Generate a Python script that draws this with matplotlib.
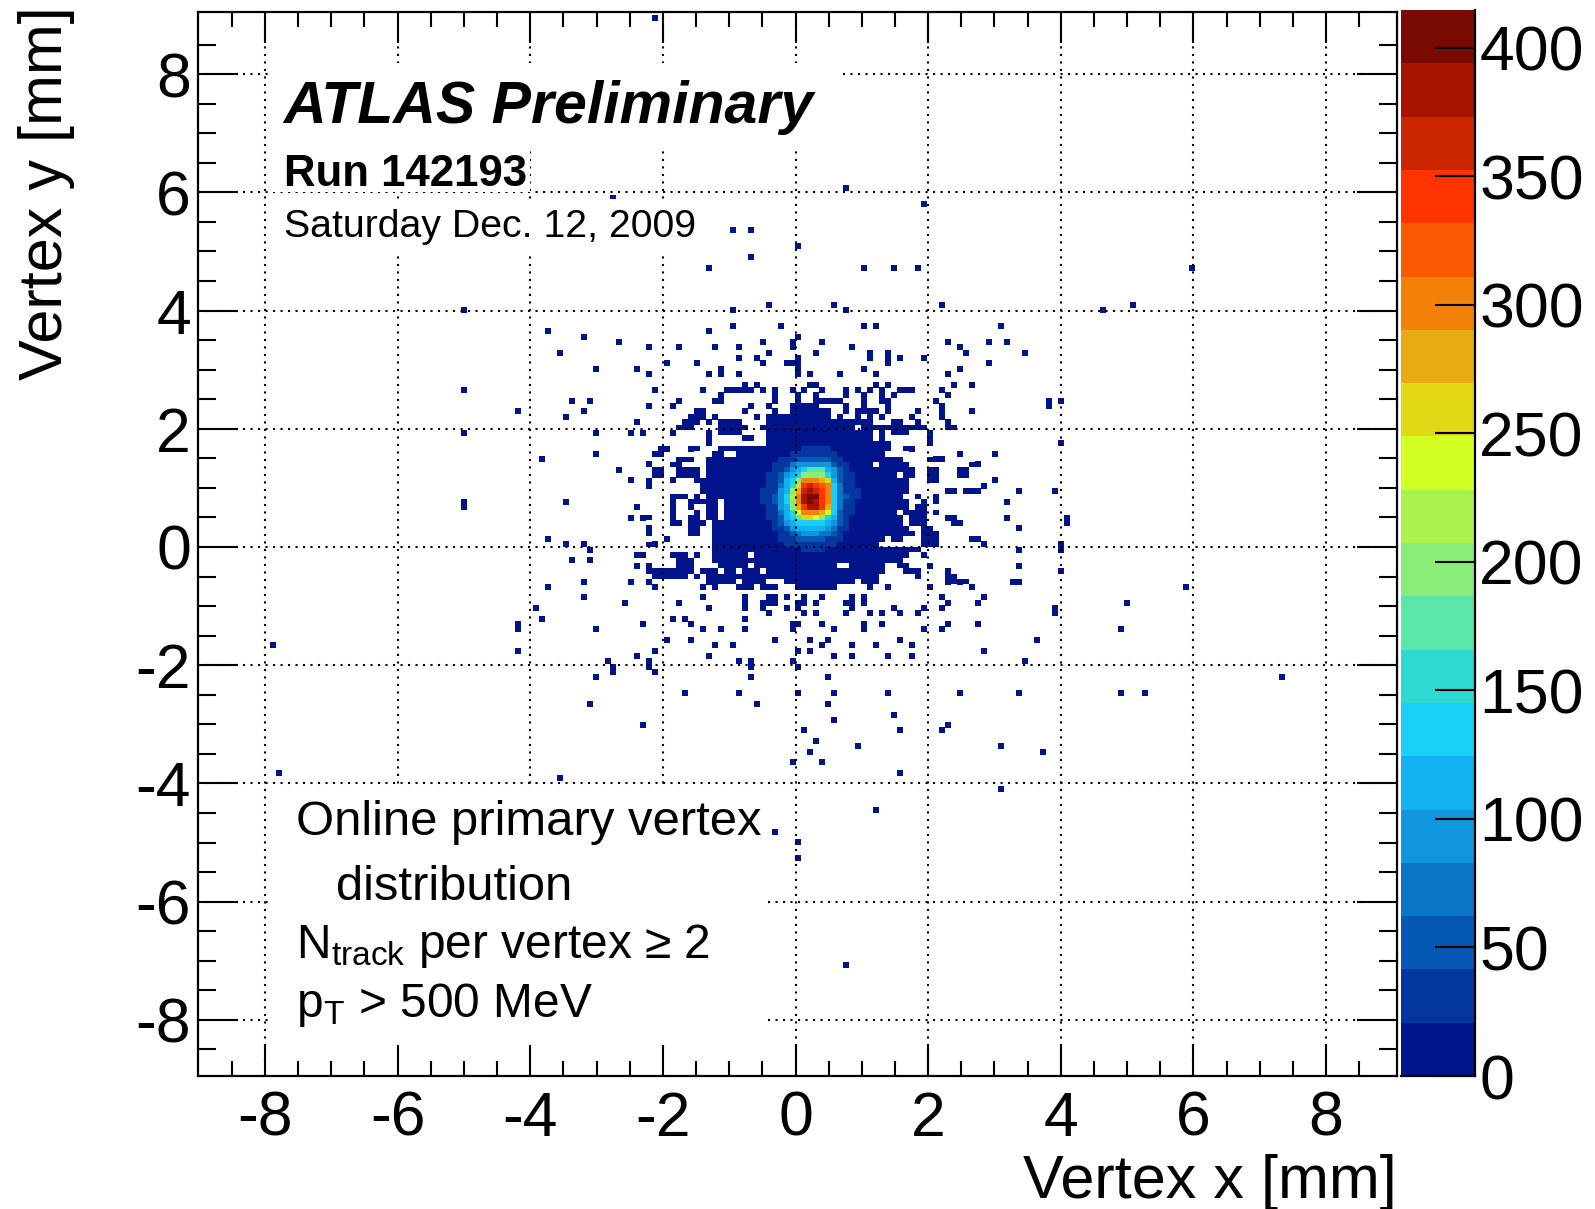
import numpy as np
import matplotlib
matplotlib.use('Agg')
import matplotlib.pyplot as plt
from matplotlib.colors import ListedColormap, BoundaryNorm
from matplotlib.patches import Rectangle

plt.rcParams['font.family'] = ['Liberation Sans', 'DejaVu Sans']
plt.rcParams['axes.unicode_minus'] = False

# filled part of the blob: one row of (x from, x to) spans per y bin, in mm
blob_y = [2.025, 1.935, 1.845, 1.755, 1.665, 1.575, 1.485, 1.395, 1.305, 1.215,
          1.125, 1.035, 0.945, 0.855, 0.765, 0.675, 0.585, 0.495, 0.405, 0.315,
          0.225, 0.135, 0.045, -0.045, -0.135, -0.225, -0.315, -0.405, -0.495, -0.585]
blob_spans = [
    [(-1.73, -1.53), (-1.13, -.75), (-.48, .9), (1.0, 1.96), (2.29, 2.39)],
    [(-1.31, -1.23), (-1.13, -.85), (-.4, 1.21), (1.3, 1.38), (1.51, 1.71), (2.01, 2.06)],
    [(-1.31, -1.23), (-.75, -.63), (-.38, 1.21), (1.3, 1.38), (2.01, 2.06)],
    [(-1.31, -1.23), (-.43, 1.38), (2.01, 2.06)],
    [(-2.01, -1.93), (-1.61, -1.51), (-1.16, 1.0), (1.1, 1.38), (1.68, 1.78)],
    [(-2.14, -2.04), (-1.21, -1.03), (-.9, 1.41)],
    [(-1.73, -1.51), (-1.31, 1.62), (2.01, 2.26)],
    [(-2.21, -2.16), (-1.81, -1.76), (-1.31, 1.16), (1.26, 1.62), (2.69, 2.76)],
    [(-2.14, -2.04), (-1.73, -1.43), (-1.31, 1.83), (2.01, 2.14), (2.44, 2.54)],
    [(-2.14, -2.04), (-1.73, -1.43), (-1.31, 1.5), (1.51, 1.56), (1.66, 1.76), (2.01, 2.14), (2.44, 2.54)],
    [(-2.21, -2.16), (-1.88, -1.83), (-1.51, -1.33), (-1.28, 1.62), (1.56, 1.66), (2.01, 2.14)],
    [(-1.43, -1.28), (-1.2, 1.7), (1.56, 1.66)],
    [(-1.43, -1.23), (-1.16, 1.66), (2.26, 2.39), (2.54, 2.76)],
    [(-1.81, -1.63), (-1.51, -1.43), (-1.33, 1.62), (1.81, 1.88), (2.09, 2.14)],
    [(-1.81, -1.76), (-1.61, -1.51), (-1.41, -1.16), (-1.03, 1.5), (1.53, 1.66), (1.91, 1.96), (2.09, 2.14)],
    [(-1.88, -1.83), (-1.61, -1.53), (-1.31, -1.16), (-1.03, 1.5), (1.56, 1.71), (1.81, 1.96)],
    [(-1.88, -1.83), (-1.48, -1.43), (-1.33, -1.21), (-1.03, 1.5), (1.63, 1.96), (2.09, 2.14)],
    [(-2.34, -2.24), (-1.88, -1.83), (-1.61, -1.53), (-1.48, -1.43), (-1.33, -1.23), (-1.03, -.93), (-.83, 1.66), (1.73, 1.96), (2.29, 2.39)],
    [(-1.88, -1.78), (-1.61, -1.36), (-1.21, -.93), (-.83, 1.5), (1.51, 1.66), (1.76, 1.96), (2.41, 2.46)],
    [(-2.21, -2.14), (-1.61, -1.51), (-1.21, 1.5), (1.46, 1.71), (1.96, 2.06)],
    [(-2.21, -2.14), (-1.61, -1.51), (-1.21, 1.5), (1.51, 1.81), (1.96, 2.14)],
    [(-1.18, 1.4), (1.5, 1.6), (1.96, 2.14), (2.69, 2.76)],
    [(-2.21, -2.04), (-1.18, 1.26), (1.91, 1.96), (2.01, 2.14)],
    [(-1.18, 1.96)],
    [(-2.34, -2.3), (-1.88, -1.83), (-1.73, -1.63), (-1.18, -.68), (-.6, 1.66), (1.91, 1.96)],
    [(-1.73, -1.53), (-1.23, -.65), (-.6, .75), (.85, 1.66)],
    [(-1.73, -1.53), (-1.16, -.75), (-.6, .65), (.85, 1.38), (1.56, 1.66)],
    [(-2.2, -2.16), (-2.04, -1.78), (-1.61, -1.53), (-1.43, -1.23), (-1.03, -.93), (-.73, -.53), (-.43, .65), (.75, 1.38), (1.68, 1.86)],
    [(-2.14, -1.63), (-1.51, -1.43), (-1.33, -1.23), (-1.13, -.75), (-.73, -.43), (-.43, .75), (.85, 1.26), (1.83, 1.86), (2.29, 2.39)],
    [(-2.21, -2.16), (-1.33, -1.23), (-1.13, -.93), (-.73, -.43), (-.15, -.03), (.05, .9), (1.06, 1.26), (2.29, 2.39), (2.44, 2.54)],
]

# isolated low count bins, y of the row and the x values in it, mm
hit_y = [8.95, 6.05, 5.92, 5.78, 5.37, 5.1, 4.98, 4.86, 4.7, 4.76, 4.09, 3.98, 3.76, 3.68, 3.59, 3.48, 3.39, 3.28,
         3.17, 3.09, 2.98, 2.89, 2.78, 2.66, 2.57, 2.48, 2.39, 2.28, 2.18, 2.11,
         1.89, 1.77, 1.66, 1.57, 1.48, 1.39, 1.27, 1.16, 1.07, 0.98, 0.8, 0.67, 0.48, 0.39, 0.27, 0.16, 0.07,
         -0.04, -0.11, -0.22, -0.33, -0.43, -0.55, -0.7, -0.82, -0.93, -1.05, -1.15, -1.2, -1.32, -1.43, -1.55,
         -1.66, -1.73, -1.82, -1.94, -2.03, -2.15, -2.23, -2.43, -2.52, -2.64, -2.82, -2.93, -3.02, -3.14,
         -3.25, -3.34, -3.43, -3.64, -3.85, -3.93, -4.13, -4.43, -4.81, -5.01, -5.23, -7.1]
hit_x = [
    [-2.1], [0.72], [-2.79], [1.92], [-.97, -.69], [.03], [-3.77], [-.69], [-1.29, 1.02, 1.5], [1.82, 6.0], [-.39, .6, 2.2, 5.1],
    [-5.0, -.98, .72, 4.62], [-.98, -.19, 1.02, 1.2, 3.11], [-3.77, -1.29], [-3.18, .03], [-2.69, -.53, -.08, .43, 2.33, 2.91, 3.21],
    [-2.2, -1.79, -1.19, -.83, -.08, .81, 2.43], [-3.59, -.39, .31, 1.09, 1.42, 2.56, 3.5],
    [-.88, -.55, .01, 1.09, 1.42, 1.55, 1.93], [-1.98, -1.48, -.47, -.18, -.06, .08, 1.42, 2.91],
    [-2.98, -2.38, -1.09, .06, 1.06, 2.43], [-2.2, -1.29, -1.09, -.87, .06, .2, .66, 1.18, 2.33],
    [-.78, -.57, .2, .31, 1.2, 1.42, 2.36, 2.61],
    [-5.0, -2.08, -1.38, -1.02, -.93, -.84, -.75, -.66, -.47, -.29, -.08, .11, .43, .72, .92, 1.09, 1.32, 1.55, 1.64, 1.73, 2.22],
    [-1.13, -1.09, -.29, .02, .31, .72, 1.06, 1.32, 1.49, 2.33],
    [-3.39, -3.11, -1.79, -1.2, -1.11, -.29, .02, .31, .4, .49, .58, .67, 1.06, 1.32, 1.42, 2.1, 4.02, 3.78],
    [-2.2, -1.88, -.7, -.44, -.08, .02, .11, .2, .29, .72, 1.06, 1.42, 2.22, 3.8],
    [-4.18, -3.18, -1.53, -1.44, -1.36, -.8, -.29, -.08, .02, .11, .2, .29, .38, .47, .72, .92, 1.01, 1.1, 1.19, 1.42, 1.82, 2.22, 2.61],
    [-3.49, -1.59, -1.5, -1.41, -1.19, -.55, -.38, -.29, -.2, -.11, -.02, .07, .16, .25, .34, .43, .52, .67, .92, 1.1, 1.28, 1.72, 2.22],
    [-2.38, -1.7, -1.61, -1.52, -1.3, -1.13, -1.04, -.95, -.86, -.4, -.31, -.22, -.13, -.04, .05, .14, .23, .32, .41, .5, .59, .68, .77, .86, .95, 1.04, 1.13, 1.44, 1.53, 1.87, 2.33],
    [-5.0, -2.98, -2.49, -2.28, -1.88, 2.01], [3.98, 4.03, 2.01], [-1.98, -1.58, 1.72], [-2.98, -2.08, 2.43, 3.01], [-3.86, 2.1, 2.19],
    [-2.2, -1.79, 2.72], [-2.69, -2.08, 2.49], [-2.49, -1.88, 3.01], [-2.2, 2.82], [2.33, 2.65, 2.74, 3.4, 3.9],
    [-3.49, -5.0, 3.21], [-2.38, -5.0], [-2.49, -2.28, 2.33, 3.21, 4.12], [2.43, 4.12], [-2.2, 3.4], [-3.77, -1.98, 2.72], [-3.49, -3.18, -2.14, 2.82, 4.02],
    [-3.1, 3.4, 4.01], [-2.38, -1.88, -1.69, -1.49], [-3.39, -3.12], [-2.38, -2.2, 2.01, 3.4], [-2.14, -2.05, -1.96, -1.87, -1.78, -1.69, 2.33, 4.02, 4.01],
    [-3.18, -2.49, -2.2, -1.31, 2.33, 2.48, 3.32, 3.33],
    [-3.77, -3.78, -2.08, -1.38, -1.19, -.84, -.75, -.67, -.47, -.38, -.28, 0, .09, .18, .27, .36, .45, .54, 1.09, 1.42, 2.01, 2.61, 5.9],
    [-3.18, -1.38, -.8, -.44, -.29, -.1, .14, .43, .83, 1.06, 2.22, 2.82],
    [-2.59, -1.79, -.8, -.47, -.38, -.29, .08, .17, .27, .74, .83, 1.06, 2.33, 2.74, 5.02],
    [-3.89, -1.33, -.8, -.47, -.18, .02, .83, 1.49, 1.92, 2.2, 3.89],
    [-.44, .11, .31, .72, 1.09, 1.32, 1.6, 1.83, 3.9],
    [-3.86, -1.88, -1.69, -.8],
    [-4.18, -2.28, -1.57, -.06, .03, .43, 1.02, 1.32, 2.33, 2.73],
    [-4.18, -2.98, -1.42, -1.09, -.74, -.06, .6, 1.02, 1.92, 2.2, 4.89],
    [-1.98, -1.57, -.29, .2, .53, 1.55, 1.6, 3.61],
    [-7.88, -1.19, -.98, .43, .81, 1.2, 1.73],
    [-4.18, -2.08, .02, .2, 2.83], [-2.38, -1.29, .6, .81, 1.42, 1.73],
    [-2.86, -2.2, -.88, -.69, -.08, 3.5], [-2.77, -2.2, -.69, .02], [-2.71, -2.08], [-2.98, -.69, .53, 7.31],
    [-1.69, -.88, .02, .6, 1.42, 2.49], [3.33, 4.9, 5.3], [-3.11, -.57, .53], [1.5], [.6], [-2.28, 2.33], [.1, 1.6, 2.2], [.31], [.92, 3.11],
    [.2, 3.72], [-.08, .43], [1.6, -7.8], [-3.59], [3.11], [1.17], [-.28], [.02], [.02], [.8],
]

# the peak, counts per bin, rows from high y to low y
core_x = [-0.495, -0.405, -0.315, -0.225, -0.135, -0.045, 0.045, 0.135, 0.225, 0.315, 0.405, 0.495, 0.585, 0.675, 0.765, 0.855, 0.945]
core_y = [1.665, 1.575, 1.485, 1.395, 1.305, 1.215, 1.125, 1.035, 0.945, 0.855, 0.765, 0.675, 0.585, 0.495, 0.405, 0.315, 0.225, 0.135, 0.045, -0.045]
core_counts = [
    [10, 10, 10, 10, 10, 10, 10, 25, 30, 30, 30, 25, 10, 10, 10, 10, 10],
    [10, 10, 10, 10, 10, 25, 30, 35, 40, 40, 35, 30, 25, 10, 10, 10, 10],
    [10, 10, 10, 25, 30, 35, 45, 55, 60, 60, 55, 50, 35, 30, 10, 10, 10],
    [10, 10, 25, 30, 40, 70, 85, 95, 100, 100, 95, 85, 60, 35, 30, 10, 10],
    [10, 10, 25, 35, 60, 90, 120, 125, 175, 180, 175, 120, 90, 45, 30, 10, 10],
    [10, 25, 30, 45, 85, 120, 135, 190, 190, 190, 190, 135, 100, 50, 30, 25, 10],
    [10, 25, 30, 55, 110, 130, 200, 300, 310, 300, 290, 250, 120, 60, 30, 25, 10],
    [10, 25, 35, 70, 115, 160, 250, 340, 360, 350, 320, 300, 130, 65, 35, 25, 10],
    [25, 30, 40, 85, 120, 200, 290, 360, 380, 370, 345, 305, 140, 75, 40, 30, 25],
    [25, 30, 50, 90, 125, 210, 300, 380, 410, 395, 340, 300, 145, 80, 50, 30, 25],
    [25, 30, 45, 90, 125, 205, 300, 375, 405, 390, 350, 295, 140, 75, 40, 30, 10],
    [10, 30, 40, 85, 120, 190, 285, 350, 385, 375, 350, 270, 130, 70, 40, 25, 10],
    [10, 25, 35, 75, 115, 150, 245, 295, 310, 300, 280, 230, 125, 60, 30, 25, 10],
    [10, 25, 35, 60, 110, 130, 170, 260, 260, 240, 200, 135, 115, 55, 30, 10, 10],
    [10, 10, 30, 45, 90, 120, 130, 135, 130, 130, 125, 120, 100, 45, 30, 10, 10],
    [10, 10, 25, 35, 60, 85, 110, 115, 120, 115, 110, 100, 75, 40, 30, 10, 10],
    [10, 10, 10, 30, 40, 55, 70, 85, 90, 90, 80, 65, 45, 35, 10, 10, 10],
    [10, 10, 10, 25, 30, 35, 45, 50, 55, 55, 50, 40, 30, 25, 10, 10, 10],
    [10, 10, 10, 10, 25, 25, 30, 35, 35, 30, 30, 25, 25, 10, 10, 10, 10],
    [10, 10, 10, 10, 10, 10, 10, 25, 25, 25, 25, 10, 10, 10, 10, 10, 10],
]

band_colors = ['#02148c', '#0436a0', '#0558b4', '#0a76c6', '#0f96dc', '#12b2f0', '#18d0f8',
               '#2fd8d0', '#5ae6a8', '#88ee78', '#aaf24e', '#d2fe24', '#e2d816', '#e8ac12',
               '#f58208', '#fa5a00', '#ff3300', '#cc2600', '#a81300', '#7a0a00']
z_max = 414.6
z_ticks = [0, 50, 100, 150, 200, 250, 300, 350, 400]
grid_ticks = [-8, -6, -4, -2, 0, 2, 4, 6, 8]

# blob goes in the histogram, single hits are drawn on top as squares
xs = []
ys = []
for y, spans in zip(blob_y, blob_spans):
    for lo, hi in spans:
        for x in np.arange(lo, hi, 0.09):
            xs.append(x)
            ys.append(y)
hx = []
hy = []
for y, row in zip(hit_y, hit_x):
    for x in row:
        hx.append(np.floor(x / 0.09) * 0.09 + 0.045)
        hy.append(np.floor(y / 0.09) * 0.09 + 0.045)

edges = np.linspace(-9, 9, 201)
H, _, _ = np.histogram2d(xs, ys, bins=[edges, edges])
H = np.clip(H, 0, 1) * 10
ix = np.searchsorted(edges, core_x) - 1
iy = np.searchsorted(edges, core_y) - 1

levels = np.linspace(0, z_max, len(band_colors) + 1)
cmap = ListedColormap(band_colors)
norm = BoundaryNorm(levels, cmap.N)

W, HT = 1595.0, 1209.0
fig = plt.figure(figsize=(W / 100, HT / 100), dpi=100)
ax = fig.add_axes([198 / W, 1 - 1076 / HT, (1397 - 198) / W, (1076 - 12) / HT])
ax.scatter(hx, hy, marker='s', s=21, color=band_colors[0], linewidths=0, zorder=1)
for j, row in enumerate(core_counts):
    for i, val in enumerate(row):
        H[ix[i], iy[j]] = val
mesh = ax.pcolormesh(edges, edges, np.ma.masked_equal(H.T, 0), cmap=cmap, norm=norm, antialiased=False, zorder=1.2)
ax.set_xlim(-9.01, 9.07)
ax.set_ylim(-8.95, 9.05)

for g in grid_ticks:
    ax.axvline(g, color='k', lw=1.5, ls=(0, (1, 2.6)), zorder=2)
    ax.axhline(g, color='k', lw=1.5, ls=(0, (1, 2.6)), zorder=2)


def px_box(x0, y0, x1, y1):
    # white box behind the text, corners in pixels of the picture
    ax0 = (x0 - 797) / 66.3
    ax1 = (x1 - 797) / 66.3
    ay0 = (547 - y1) / 59.1
    ay1 = (547 - y0) / 59.1
    ax.add_patch(Rectangle((ax0, ay0), ax1 - ax0, ay1 - ay0, fc='white', ec='none', zorder=2.2))


px_box(272, 63, 844, 148)
px_box(272, 148, 532, 192)
px_box(272, 199, 702, 255)
px_box(272, 786, 765, 1076)

ax.set_axisbelow(False)
ax.set_xticks(grid_ticks)
ax.set_yticks(grid_ticks)
ax.set_xticks(np.arange(-8.5, 9, 0.5), minor=True)
ax.set_yticks(np.arange(-8.5, 9, 0.5), minor=True)
ax.tick_params(axis='x', which='major', direction='in', top=True, length=22, width=1.5, labelsize=45, pad=10)
ax.tick_params(axis='x', which='minor', direction='in', top=True, length=11, width=1.5)
ax.tick_params(axis='y', which='major', direction='in', right=True, length=29, width=1.5, labelsize=45, pad=5)
ax.tick_params(axis='y', which='minor', direction='in', right=True, length=13, width=1.5)
for s in ax.spines.values():
    s.set_linewidth(1.6)

ax.set_xlabel('Vertex x [mm]', fontsize=44, ha='right')
ax.xaxis.set_label_coords(1.0, -0.073)
ax.set_ylabel('Vertex y [mm]', fontsize=44, ha='right')
ax.yaxis.set_label_coords(-0.103, 1.005)

ax.text(-7.72, 7.18, 'ATLAS Preliminary', fontsize=42.5, fontweight='bold', fontstyle='italic', va='baseline', zorder=4)
ax.text(-7.72, 6.1, 'Run 142193', fontsize=31.5, fontweight='bold', va='baseline', zorder=4)
ax.text(-7.72, 5.25, 'Saturday Dec. 12, 2009', fontsize=28.3, va='baseline', zorder=4)
ax.text(-7.53, -4.87, 'Online primary vertex', fontsize=35.3, va='baseline', zorder=4)
ax.text(-6.93, -5.98, 'distribution', fontsize=35.3, va='baseline', zorder=4)
ax.text(-7.53, -6.95, r'N$_{\mathregular{track}}$ per vertex ≥ 2', fontsize=34.5, va='baseline', zorder=4)
ax.text(-7.53, -7.95, r'p$_{\mathregular{T}}$ > 500 MeV', fontsize=34.5, va='baseline', zorder=4)

cax = fig.add_axes([1401 / W, 1 - 1076 / HT, (1475 - 1401) / W, (1076 - 10) / HT])
cb = fig.colorbar(mesh, cax=cax, spacing='proportional', ticks=z_ticks)
cb.ax.minorticks_off()
cb.outline.set_visible(False)
cax.spines['right'].set_visible(True)
cax.spines['right'].set_linewidth(1.6)
cax.spines['bottom'].set_visible(True)
cax.spines['bottom'].set_linewidth(1.6)
cax.set_yticks(z_ticks)
cax.set_yticklabels([str(v) for v in z_ticks])
cax.tick_params(axis='y', direction='in', length=29, width=1.5, labelsize=45, pad=3)

fig.savefig('out.png', dpi=100)
